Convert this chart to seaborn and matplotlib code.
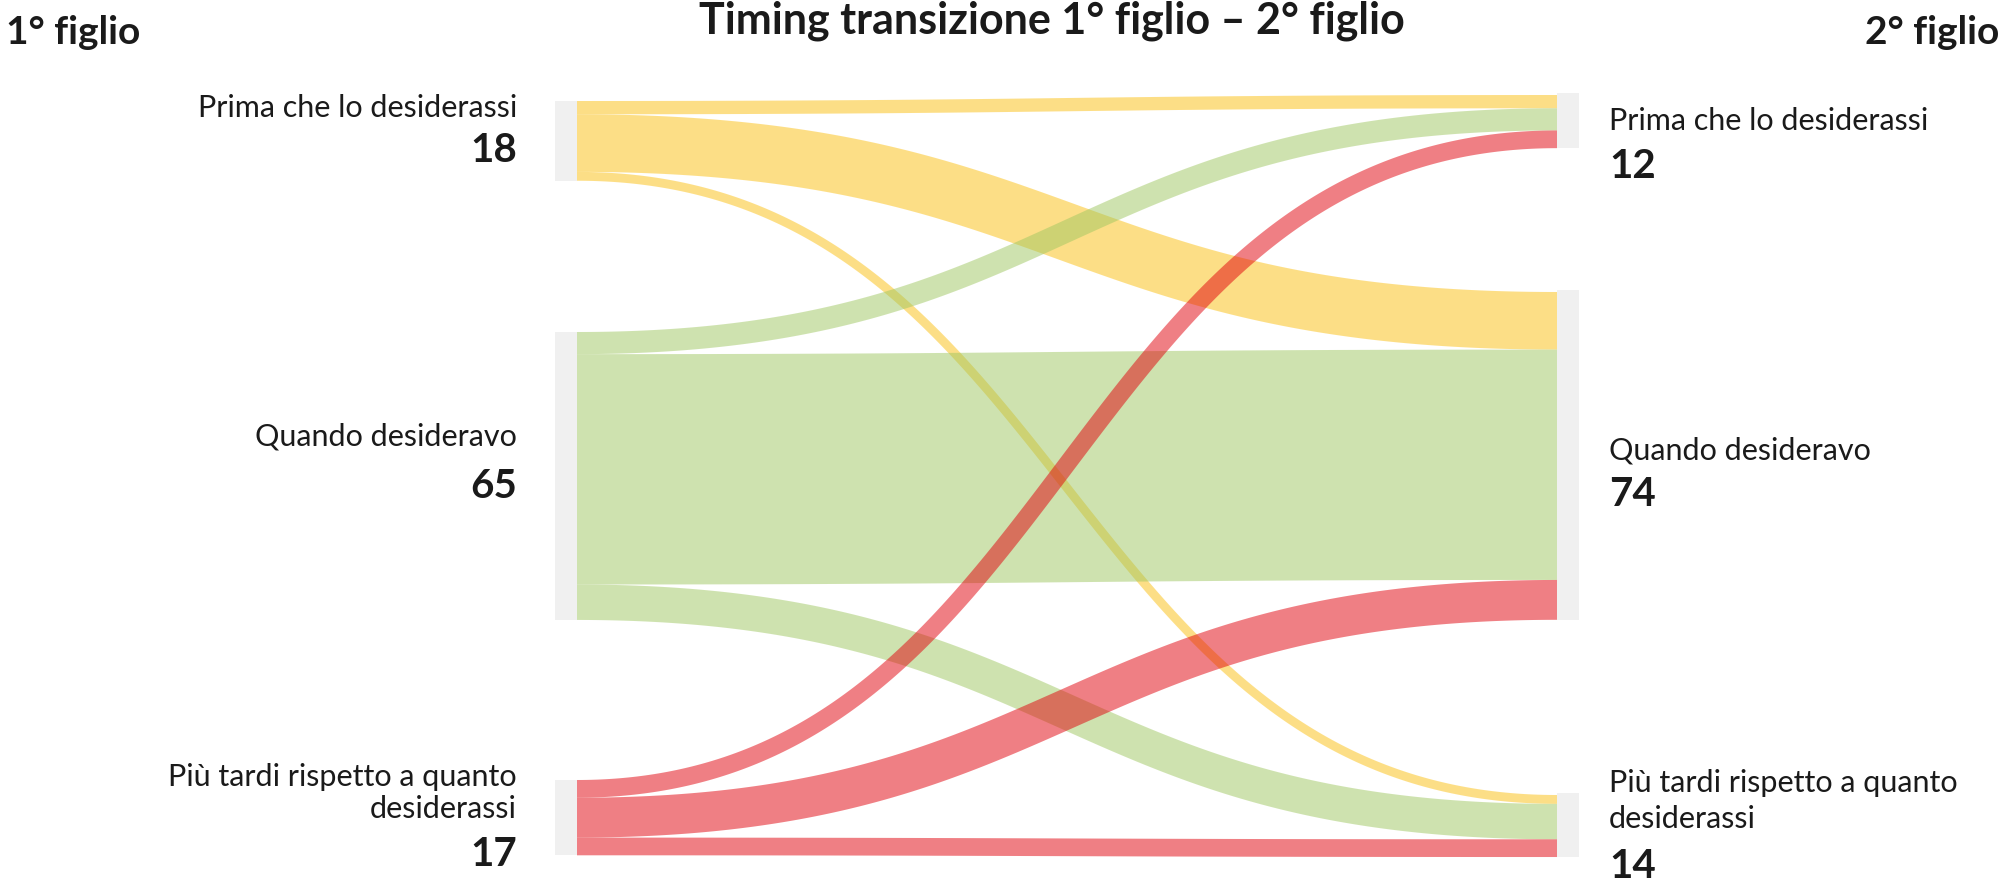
import numpy as np
import matplotlib
matplotlib.use("Agg")
import matplotlib.pyplot as plt
import seaborn as sns

# ---- data -------------------------------------------------------------
categories = [
    "Prima che lo desiderassi",
    "Quando desideravo",
    "Più tardi rispetto a quanto\ndesiderassi",
]
# share of respondents moving from the timing of the 1st child (row)
# to the timing of the 2nd child (columns in the same order as categories)
flow_from_prima = [3, 13, 2]
flow_from_quando = [5, 52, 8]
flow_from_piu_tardi = [4, 9, 4]

totals_first_child = [18, 65, 17]
totals_second_child = [12, 74, 14]

title = "Timing transizione 1° figlio – 2° figlio"
left_header = "1° figlio"
right_header = "2° figlio"

# ---- style ------------------------------------------------------------
sns.set_theme(style="white")
plt.rcParams["font.family"] = ["Lato", "DejaVu Sans"]

palette = sns.color_palette(["#FBBF0F", "#9FC761", "#E1000A"])
FLOW_ALPHA = 0.5
NODE_GREY = "#F0F0F0"
TEXT = "#1A1A1A"

W, H = 1999, 883
fig = plt.figure(figsize=(W / 100, H / 100), dpi=100)
ax = fig.add_axes([0, 0, 1, 1])
ax.set_xlim(0, W)
ax.set_ylim(H, 0)
ax.axis("off")

# ---- layout -----------------------------------------------------------
SCALE = 4.43                      # pixels per percentage point
left_tops = [101, 332, 780]
right_tops = [95, 292, 795]
X_LEFT, X_RIGHT = 577, 1557
BAR_W = 22

flows = np.array([flow_from_prima, flow_from_quando, flow_from_piu_tardi], dtype=float)

# node bars
for i, tot in enumerate(totals_first_child):
    ax.add_patch(plt.Rectangle((X_LEFT - BAR_W, left_tops[i]), BAR_W, tot * SCALE,
                               color=NODE_GREY, lw=0, zorder=1))
for j, tot in enumerate(totals_second_child):
    ax.add_patch(plt.Rectangle((X_RIGHT, right_tops[j] - 2), BAR_W, tot * SCALE + 2,
                               color=NODE_GREY, lw=0, zorder=1))


def band(x0, c0, x1, c1, width, n=300):
    """Polygon of a constant-width ribbon following a cubic S-curve."""
    t = np.linspace(0, 1, n)
    xm = (x0 + x1) / 2
    px = np.array([x0, xm, xm, x1])
    py = np.array([c0, c0, c1, c1])
    b = np.stack([(1 - t) ** 3, 3 * (1 - t) ** 2 * t, 3 * (1 - t) * t ** 2, t ** 3])
    db = np.stack([-3 * (1 - t) ** 2,
                   3 * (1 - t) ** 2 - 6 * (1 - t) * t,
                   6 * (1 - t) * t - 3 * t ** 2,
                   3 * t ** 2])
    x, y = px @ b, py @ b
    dx, dy = px @ db, py @ db
    norm = np.hypot(dx, dy)
    nx, ny = -dy / norm, dx / norm
    h = width / 2
    upper = np.column_stack([x + nx * h, y + ny * h])
    lower = np.column_stack([x - nx * h, y - ny * h])
    return np.vstack([upper, lower[::-1]])


src_off = np.zeros(3)
tgt_off = np.zeros(3)
for i in range(3):
    for j in range(3):
        v = flows[i, j]
        w = v * SCALE
        y0 = left_tops[i] + src_off[i]
        y1 = right_tops[j] + tgt_off[j]
        src_off[i] += w
        tgt_off[j] += w
        poly = band(X_LEFT, y0 + w / 2, X_RIGHT, y1 + w / 2, w)
        ax.fill(poly[:, 0], poly[:, 1], color=palette[i], alpha=FLOW_ALPHA,
                lw=0, zorder=2 + i)

# ---- labels -----------------------------------------------------------
LABEL_FS = 22
NUM_FS = 29
left_label_y = [108, 437, 793]
left_num_y = [150, 487, 854]
right_label_y = [121, 451, 801]
right_num_y = [166, 495, 867]

for i, cat in enumerate(categories):
    ax.text(517, left_label_y[i], cat, ha="right", va="center", multialignment="right",
            fontsize=LABEL_FS, color=TEXT, linespacing=1.15)
    ax.text(517, left_num_y[i], f"{totals_first_child[i]}", ha="right", va="center",
            fontsize=NUM_FS, fontweight="bold", color=TEXT)
    ax.text(1609, right_label_y[i], cat, ha="left", va="center", multialignment="left",
            fontsize=LABEL_FS, color=TEXT, linespacing=1.35)
    ax.text(1609, right_num_y[i], f"{totals_second_child[i]}", ha="left", va="center",
            fontsize=NUM_FS, fontweight="bold", color=TEXT)

ax.text(1052, 21, title, ha="center", va="center", fontsize=31, fontweight="bold", color=TEXT)
ax.text(6, 32, left_header, ha="left", va="center", fontsize=28, fontweight="bold", color=TEXT)
ax.text(1999, 32, right_header, ha="right", va="center", fontsize=28, fontweight="bold", color=TEXT)

fig.savefig("out.png", dpi=100, facecolor="white")
